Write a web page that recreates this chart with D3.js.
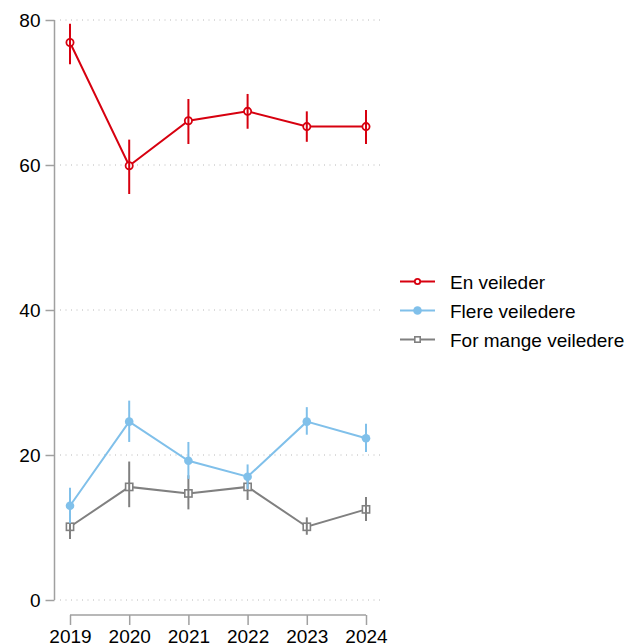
<!DOCTYPE html>
<html>
<head>
<meta charset="utf-8">
<script src="https://cdn.jsdelivr.net/npm/d3@7"></script>
<style>
  body { margin: 0; background: #fff; }
  svg { display: block; font-family: "Liberation Sans", Arial, Helvetica, sans-serif; }
</style>
</head>
<body>
<svg id="chart" width="629" height="644"></svg>
<script>
// Years on the x axis
const years = [2019, 2020, 2021, 2022, 2023, 2024];
const yTicks = [0, 20, 40, 60, 80];

// Share (%) with confidence interval bounds per series
const enVeileder      = [76.9, 59.9, 66.1, 67.4, 65.3, 65.3];
const enVeilederLo    = [73.9, 56.0, 62.9, 65.0, 63.2, 62.9];
const enVeilederHi    = [79.5, 63.5, 69.1, 69.8, 67.4, 67.6];

const flere           = [13.0, 24.6, 19.2, 17.0, 24.6, 22.3];
const flereLo         = [10.6, 21.8, 16.7, 15.3, 22.8, 20.4];
const flereHi         = [15.5, 27.5, 21.8, 18.7, 26.6, 24.3];

const forMange        = [10.1, 15.6, 14.7, 15.6, 10.1, 12.5];
const forMangeLo      = [8.4, 12.8, 12.5, 13.8, 9.0, 10.9];
const forMangeHi      = [12.4, 19.1, 17.2, 17.4, 11.4, 14.2];

const seriesNames = ["En veileder", "Flere veiledere", "For mange veiledere"];

const series = [
  { name: seriesNames[0], values: enVeileder, lo: enVeilederLo, hi: enVeilederHi, color: "#d7000f", marker: "hollowCircle" },
  { name: seriesNames[1], values: flere, lo: flereLo, hi: flereHi, color: "#80c0ea", marker: "dot" },
  { name: seriesNames[2], values: forMange, lo: forMangeLo, hi: forMangeHi, color: "#808080", marker: "hollowSquare" }
];

const svg = d3.select("#chart");
const axisColor = "#a0a0a0";
const fontSize = 19;

const x = d3.scalePoint().domain(years).range([70, 366]);
const y = d3.scaleLinear().domain([0, 80]).range([600, 20]);

// Dotted horizontal grid
svg.append("g").selectAll("line").data(yTicks).join("line")
  .attr("x1", 60).attr("x2", 380)
  .attr("y1", d => y(d)).attr("y2", d => y(d))
  .attr("stroke", "#b8b8b8").attr("stroke-width", 1)
  .attr("stroke-dasharray", "1,4.5");

// Y axis
const yAxis = svg.append("g").attr("transform", "translate(54.5,0)")
  .call(d3.axisLeft(y).tickValues(yTicks).tickSize(9).tickPadding(5));
yAxis.select(".domain").attr("stroke", axisColor).attr("stroke-width", 1.5).attr("d", `M0,${y(80)}V${y(0)}`);
yAxis.selectAll(".tick line").attr("stroke", axisColor).attr("stroke-width", 1.5);
yAxis.selectAll(".tick text").attr("font-size", fontSize).attr("fill", "#000")
  .attr("font-family", "Liberation Sans, Arial, sans-serif");

// X axis, offset below the plot
const xAxis = svg.append("g").attr("transform", "translate(0,615)")
  .call(d3.axisBottom(x).tickSize(10).tickPadding(4));
xAxis.select(".domain").attr("stroke", axisColor).attr("stroke-width", 1.5).attr("d", `M${x(2019)},0H${x(2024)}`);
xAxis.selectAll(".tick line").attr("stroke", axisColor).attr("stroke-width", 1.5);
xAxis.selectAll(".tick text").attr("font-size", fontSize).attr("fill", "#000")
  .attr("font-family", "Liberation Sans, Arial, sans-serif")
  .attr("dy", null).attr("y", 28);

function drawMarker(g, type, color, cx, cy, size) {
  const k = size || 1;
  if (type === "hollowCircle") {
    g.append("circle").attr("cx", cx).attr("cy", cy).attr("r", 3.6 * k)
      .attr("fill", "#fff").attr("stroke", color).attr("stroke-width", 1.8);
  } else if (type === "dot") {
    g.append("circle").attr("cx", cx).attr("cy", cy).attr("r", 4.3 * k).attr("fill", color);
  } else {
    const h = 3.6 * k;
    g.append("rect").attr("x", cx - h).attr("y", cy - h).attr("width", 2 * h).attr("height", 2 * h)
      .attr("fill", "#fff").attr("stroke", color).attr("stroke-width", 1.6);
  }
}

// Series are drawn bottom-up so the red line is on top
[...series].reverse().forEach(s => {
  const g = svg.append("g");
  const line = d3.line().x((d, i) => x(years[i])).y(d => y(d));
  g.append("path").datum(s.values).attr("d", line)
    .attr("fill", "none").attr("stroke", s.color).attr("stroke-width", 2);
  const m = g.append("g");
  s.values.forEach((v, i) => drawMarker(m, s.marker, s.color, x(years[i]), y(v)));
  // error bars over the markers
  g.append("g").selectAll("line").data(s.values).join("line")
    .attr("x1", (d, i) => x(years[i])).attr("x2", (d, i) => x(years[i]))
    .attr("y1", (d, i) => y(s.lo[i])).attr("y2", (d, i) => y(s.hi[i]))
    .attr("stroke", s.color).attr("stroke-width", 2);
});

// Legend
const legend = svg.append("g");
series.forEach((s, i) => {
  const ly = 281.5 + i * 29;
  const lg = legend.append("g");
  lg.append("line").attr("x1", 400).attr("x2", 435).attr("y1", ly).attr("y2", ly)
    .attr("stroke", s.color).attr("stroke-width", 2);
  drawMarker(lg, s.marker, s.color, 417.5, ly, s.marker === "dot" ? 1 : 0.75);
  lg.append("text").attr("x", 450).attr("y", ly + 7).attr("font-size", fontSize).attr("fill", "#000")
    .text(s.name);
});
</script>
</body>
</html>
